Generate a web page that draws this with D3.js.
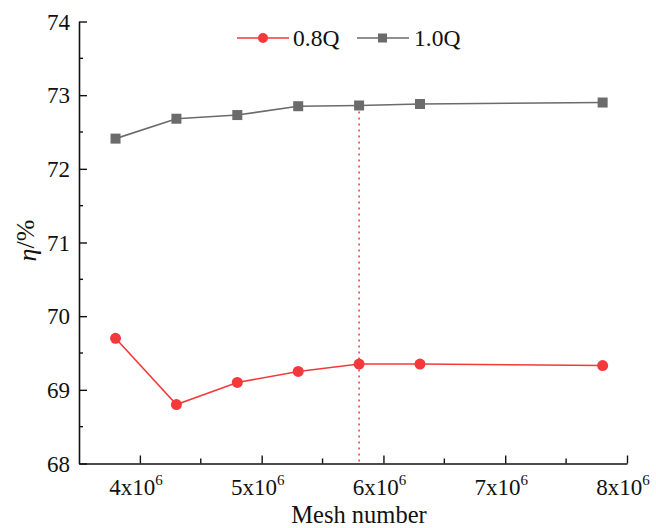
<!DOCTYPE html>
<html>
<head>
<meta charset="utf-8">
<script src="https://cdn.jsdelivr.net/npm/d3@7"></script>
<style>
  body { margin: 0; background: #fff; }
  svg text { font-family: "Liberation Serif", "Times New Roman", serif; }
</style>
</head>
<body>
<div id="chart"></div>
<script>
// Mesh counts (x) and efficiency values (%)
const meshNumbers = [3.8e6, 4.3e6, 4.8e6, 5.3e6, 5.8e6, 6.3e6, 7.8e6];
const eff08Q = [69.70, 68.80, 69.10, 69.25, 69.35, 69.35, 69.33];
const eff10Q = [72.41, 72.68, 72.73, 72.85, 72.86, 72.88, 72.90];
const xTicks = [4e6, 5e6, 6e6, 7e6, 8e6];
const yTicks = [68, 69, 70, 71, 72, 73, 74];
const chosenMesh = 5.8e6;

const width = 656, height = 528;
const margin = { top: 21.5, right: 29, bottom: 64.5, left: 79 };
const serif = "Liberation Serif";

const red = "#f3393c";
const gray = "#6b6b6b";

const svg = d3.select("#chart").append("svg")
  .attr("width", width)
  .attr("height", height);

const x = d3.scaleLinear()
  .domain([3.5e6, 8e6])
  .range([margin.left, width - margin.right]);

const y = d3.scaleLinear()
  .domain([68, 74])
  .range([height - margin.bottom, margin.top]);

// axes (ticks pointing inward)
const xAxis = svg.append("g")
  .attr("transform", `translate(0,${height - margin.bottom})`)
  .call(d3.axisBottom(x).tickValues(xTicks).tickSize(-8).tickSizeOuter(0).tickFormat(""));
const yAxis = svg.append("g")
  .attr("transform", `translate(${margin.left},0)`)
  .call(d3.axisLeft(y).tickValues(yTicks).tickSize(-8).tickSizeOuter(0).tickFormat(""));

[xAxis, yAxis].forEach(g => {
  g.select(".domain").attr("stroke", "#111").attr("stroke-width", 1.6);
  g.selectAll(".tick line").attr("stroke", "#111").attr("stroke-width", 1.4);
});

// minor ticks
const xMinor = d3.range(4.5e6, 8e6, 1e6);
svg.append("g").selectAll("line").data(xMinor).join("line")
  .attr("x1", d => x(d)).attr("x2", d => x(d))
  .attr("y1", height - margin.bottom).attr("y2", height - margin.bottom - 5)
  .attr("stroke", "#111").attr("stroke-width", 1.4);
const yMinor = d3.range(68.5, 74, 1);
svg.append("g").selectAll("line").data(yMinor).join("line")
  .attr("x1", margin.left).attr("x2", margin.left + 4)
  .attr("y1", d => y(d)).attr("y2", d => y(d))
  .attr("stroke", "#111").attr("stroke-width", 1.4);

// tick labels
svg.append("g").selectAll("text").data(yTicks).join("text")
  .attr("x", margin.left - 9)
  .attr("y", d => y(d) + 8)
  .attr("text-anchor", "end")
  .attr("font-family", serif)
  .attr("font-size", 23)
  .attr("fill", "#111")
  .text(d => d);

const xLabels = svg.append("g").selectAll("text").data(xTicks).join("text")
  .attr("x", d => x(d) - 4)
  .attr("y", height - margin.bottom + 31)
  .attr("text-anchor", "middle")
  .attr("font-family", serif)
  .attr("font-size", 23)
  .attr("fill", "#111");
xLabels.append("tspan").text(d => `${d / 1e6}x10`);
xLabels.append("tspan").attr("dy", -10).attr("font-size", 15).text("6");

// axis titles
svg.append("text")
  .attr("x", 359)
  .attr("y", 523)
  .attr("text-anchor", "middle")
  .attr("font-family", serif)
  .attr("font-size", 24.5)
  .attr("fill", "#111")
  .text("Mesh number");

const yTitle = svg.append("text")
  .attr("transform", `translate(36,${y(71) - 2}) rotate(-90)`)
  .attr("text-anchor", "middle")
  .attr("font-family", serif)
  .attr("font-size", 26)
  .attr("fill", "#111");
yTitle.append("tspan").attr("font-style", "italic").text("η");
yTitle.append("tspan").attr("dy", -2).text("/%");

// dotted reference line at the chosen mesh
svg.append("line")
  .attr("x1", x(chosenMesh)).attr("x2", x(chosenMesh))
  .attr("y1", y(eff10Q[meshNumbers.indexOf(chosenMesh)]))
  .attr("y2", y(68))
  .attr("stroke", red)
  .attr("stroke-width", 1.5)
  .attr("stroke-dasharray", "2,4");

const line = d3.line().x(d => x(d[0])).y(d => y(d[1]));

// 1.0Q series
const data10 = meshNumbers.map((m, i) => [m, eff10Q[i]]);
svg.append("path").datum(data10)
  .attr("d", line).attr("fill", "none")
  .attr("stroke", gray).attr("stroke-width", 1.6);
svg.append("g").selectAll("rect").data(data10).join("rect")
  .attr("x", d => x(d[0]) - 5).attr("y", d => y(d[1]) - 5)
  .attr("width", 10).attr("height", 10)
  .attr("fill", gray);

// 0.8Q series
const data08 = meshNumbers.map((m, i) => [m, eff08Q[i]]);
svg.append("path").datum(data08)
  .attr("d", line).attr("fill", "none")
  .attr("stroke", red).attr("stroke-width", 1.6);
svg.append("g").selectAll("circle").data(data08).join("circle")
  .attr("cx", d => x(d[0])).attr("cy", d => y(d[1]))
  .attr("r", 5.5)
  .attr("fill", red);

// legend
const legend = svg.append("g");
legend.append("line").attr("x1", 237).attr("x2", 289).attr("y1", 38).attr("y2", 38)
  .attr("stroke", red).attr("stroke-width", 1.6);
legend.append("circle").attr("cx", 263).attr("cy", 38).attr("r", 5).attr("fill", red);
legend.append("text").attr("x", 293).attr("y", 46).attr("font-family", serif)
  .attr("font-size", 23.5).attr("fill", "#111").text("0.8Q");

legend.append("line").attr("x1", 357).attr("x2", 409).attr("y1", 38).attr("y2", 38)
  .attr("stroke", gray).attr("stroke-width", 1.6);
legend.append("rect").attr("x", 378).attr("y", 33.5).attr("width", 9).attr("height", 9).attr("fill", gray);
legend.append("text").attr("x", 414).attr("y", 46).attr("font-family", serif)
  .attr("font-size", 23.5).attr("fill", "#111").text("1.0Q");
</script>
</body>
</html>
